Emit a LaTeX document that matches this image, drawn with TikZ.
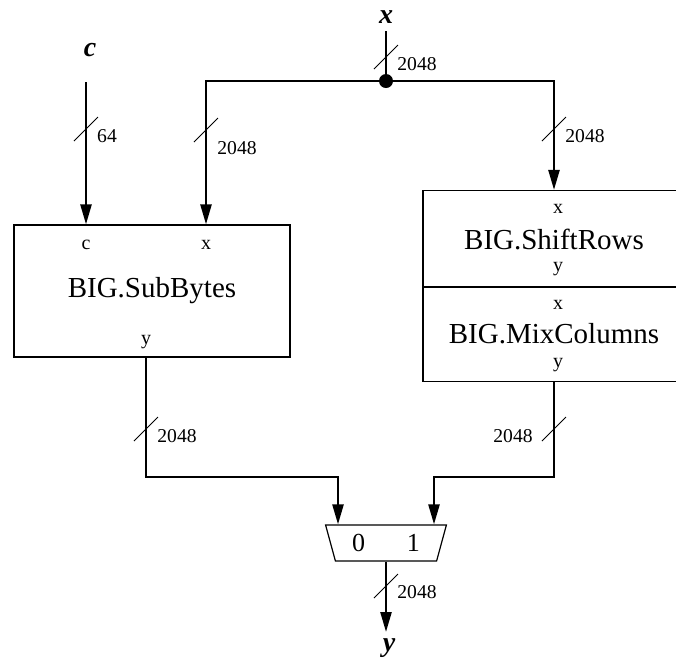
\documentclass[tikz,border=0pt]{standalone}
\usepackage{fontspec}
\setmainfont{Liberation Serif}
\usetikzlibrary{arrows.meta,shapes.geometric}

\begin{document}
\begin{tikzpicture}[
  x=0.5pt, y=-0.5pt,
  >={Triangle[length=10pt,width=5.5pt]},
  bus/.style={line width=1.2pt},
  block/.style={draw, line width=0.6pt, inner sep=0pt, font=\fontsize{14.5}{17}\selectfont},
  port/.style={inner sep=0pt, font=\fontsize{10}{12}\selectfont},
  pin/.style={font=\fontsize{14}{16}\selectfont\bfseries\itshape},
  buslbl/.style={inner sep=0pt, font=\fontsize{9.8}{11}\selectfont},
  bustick/.style={line width=0.5pt},
  mux/.style={draw, line width=0.6pt, trapezium, shape border rotate=180, trapezium angle=69.4,
    trapezium stretches=true, minimum width=60.5pt, minimum height=18pt, inner sep=0pt,
    font=\fontsize{13}{15}\selectfont}
]
\useasboundingbox (0,0) rectangle (676,666);

% inputs and output
\node[pin, anchor=south] (xin) at (386,31) {x};
\node[pin, anchor=south] (cin) at (90,64) {c};
\node[pin, anchor=north] (yout) at (389,632) {y};

% blocks
\node[block, minimum width=138pt, minimum height=66pt] (sb) at (152,291) {BIG.SubBytes};
\node[block, minimum width=131pt, minimum height=48.5pt] (sr) at (554,239) {BIG.ShiftRows};
\node[block, minimum width=131pt, minimum height=47.5pt] (mc) at (554,334) {BIG.MixColumns};
\node[mux] (mx) at (386,543) {0\hspace{21pt}1};

% port names
\node[port] (sbc) at (86,245) {c};
\node[port] (sbx) at (206,245) {x};
\node[port] (sby) at (146,342) {y};
\node[port] (srx) at (558,209) {x};
\node[port] (sry) at (558,269) {y};
\node[port] (mcx) at (558,305) {x};
\node[port] (mcy) at (558,365) {y};

\coordinate (split) at (386,81);
\coordinate (merge) at (386,477);

% wires
\draw[bus] (xin) -- (split);
\fill (split) circle (3.5pt);
\draw[bus,->] (split) -| (sbx |- sb.north);
\draw[bus,->] (split) -| (sr.north);
\draw[bus,->,shorten <=9pt] (sbc |- cin.south) -- (sbc |- sb.north);
\draw[bus,->] (sby |- sb.south) -- (sby |- merge) -| ([xshift=-24pt]mx.north);
\draw[bus,->] (mc.south) -- (mc.south |- merge) -| ([xshift=24pt]mx.north);
\draw[bus,->] (mx.south) -- (mx.south |- yout.north);

% bus widths
\foreach \cx/\cy/\lx/\ly/\w [count=\i] in {386/57/417/64/2048, 86/129/107/136/64,
    206/130/237/148/2048, 554/129/585/136/2048, 146/429/177/436/2048,
    554/429/513/436/2048, 386/586/417/592/2048}{
  \draw[bustick] (\cx-12,\cy+12) -- (\cx+12,\cy-12);
  \node[buslbl] (bw\i) at (\lx,\ly) {\w};
}
\end{tikzpicture}
\end{document}
